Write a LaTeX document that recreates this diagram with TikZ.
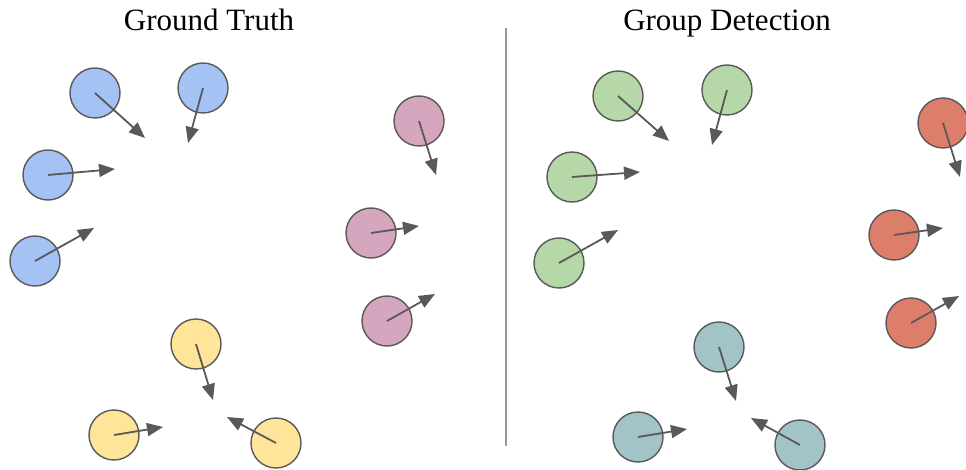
\documentclass[tikz,border=0pt]{standalone}
\usepackage{fontspec}
\setmainfont{Liberation Serif}
\usetikzlibrary{arrows.meta}
\definecolor{cblue}{HTML}{A4C2F4}
\definecolor{cpink}{HTML}{D5A6BD}
\definecolor{cyellow}{HTML}{FFE599}
\definecolor{cgreen}{HTML}{B6D7A8}
\definecolor{cred}{HTML}{DD7E6B}
\definecolor{cteal}{HTML}{A2C4C9}
\definecolor{edge}{HTML}{595959}
\definecolor{divider}{HTML}{999999}
\tikzset{
  person/.style={circle, draw=edge, line width=1.4pt, minimum size=50pt, inner sep=0pt},
  heading/.style={anchor=base, font=\fontsize{31}{36}\selectfont, text=black},
  facing/.style={draw=edge, line width=1.8pt, -{Triangle[length=16pt,width=13pt]}},
}
\begin{document}
\begin{tikzpicture}[x=1pt,y=-1pt]
\useasboundingbox (0,0) rectangle (966,470);
\fill[white] (0,0) rectangle (966,470);

% titles and divider
\node[heading] (tgt) at (209,31) {Ground Truth};
\node[heading] (tgd) at (727,31) {Group Detection};
\coordinate (dtop) at (506,28);
\coordinate (dbot) at (506,446);
\draw[divider, line width=1.6pt] (dtop) -- (dbot);

% ---- left panel: ground-truth groups ----
\node[person, fill=cblue] (b1) at (95,93) {};
\node[person, fill=cblue] (b2) at (203,88) {};
\node[person, fill=cblue] (b3) at (48,175) {};
\node[person, fill=cblue] (b4) at (35,261) {};
\coordinate (b1t) at (145,138);
\coordinate (b2t) at (188,143);
\coordinate (b3t) at (115,169);
\coordinate (b4t) at (94,228);

\node[person, fill=cpink] (p1) at (419,121) {};
\node[person, fill=cpink] (p2) at (371,233) {};
\node[person, fill=cpink] (p3) at (387,321) {};
\coordinate (p1t) at (436,175);
\coordinate (p2t) at (419,226);
\coordinate (p3t) at (435,294);

\node[person, fill=cyellow] (y1) at (196,344) {};
\node[person, fill=cyellow] (y2) at (114,435) {};
\node[person, fill=cyellow] (y3) at (276,443) {};
\coordinate (y1t) at (213,400);
\coordinate (y2t) at (163,427);
\coordinate (y3t) at (227,417);

% ---- right panel: detected groups ----
\node[person, fill=cgreen] (g1) at (618,96) {};
\node[person, fill=cgreen] (g2) at (727,90) {};
\node[person, fill=cgreen] (g3) at (572,177) {};
\node[person, fill=cgreen] (g4) at (559,263) {};
\coordinate (g1t) at (669,141);
\coordinate (g2t) at (712,145);
\coordinate (g3t) at (640,172);
\coordinate (g4t) at (618,230);

\node[person, fill=cred] (r1) at (943,123) {};
\node[person, fill=cred] (r2) at (894,235) {};
\node[person, fill=cred] (r3) at (911,323) {};
\coordinate (r1t) at (960,177);
\coordinate (r2t) at (943,228);
\coordinate (r3t) at (959,296);

\node[person, fill=cteal] (t1) at (719,347) {};
\node[person, fill=cteal] (t2) at (638,437) {};
\node[person, fill=cteal] (t3) at (800,445) {};
\coordinate (t1t) at (736,401);
\coordinate (t2t) at (687,429);
\coordinate (t3t) at (751,418);

% heading arrows
\foreach \p in {b1,b2,b3,b4,p1,p2,p3,y1,y2,y3,g1,g2,g3,g4,r1,r2,r3,t1,t2,t3}
  \draw[facing] (\p.center) -- (\p t);
\end{tikzpicture}
\end{document}
